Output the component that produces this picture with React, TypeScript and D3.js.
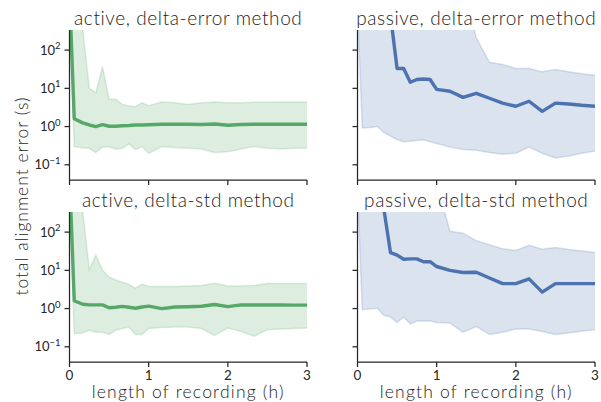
import * as d3 from 'd3';

// recording length (h)
const hours = [0.01, 0.06, 0.167, 0.25, 0.333, 0.417, 0.5, 0.583, 0.667, 0.75, 0.833, 0.917, 1.0,
  1.167, 1.333, 1.5, 1.667, 1.833, 2.0, 2.167, 2.333, 2.5, 2.667, 2.833, 3.0];

// active, delta-error
const activeErrMedian = [1000, 1.6, 1.25, 1.1, 1.0, 1.12, 1.02, 1.02, 1.05, 1.07, 1.1, 1.1, 1.12,
  1.15, 1.15, 1.15, 1.13, 1.17, 1.08, 1.13, 1.15, 1.15, 1.15, 1.15, 1.15];
const activeErrLow = [300, 0.3, 0.28, 0.27, 0.21, 0.29, 0.29, 0.26, 0.27, 0.35, 0.25, 0.3, 0.2,
  0.3, 0.28, 0.27, 0.26, 0.21, 0.22, 0.26, 0.3, 0.27, 0.26, 0.27, 0.27];
const activeErrHigh = [5000, 3000, 350, 10, 7.7, 37, 5.2, 5.2, 3.8, 3.5, 3.3, 4.2, 3.5,
  4.4, 4.2, 3.8, 4.2, 4.4, 4.2, 4.2, 4.3, 4.3, 4.4, 4.4, 4.4];

// passive, delta-error
const passiveErrMedian = [5000, 4000, 3000, 2500, 2000, 800, 33, 33, 14.4, 17, 17.5, 17, 9.4,
  8.4, 5.8, 7.4, 5.5, 4.1, 3.4, 4.6, 2.5, 4.1, 3.9, 3.6, 3.4];
const passiveErrLow = [400, 0.92, 0.95, 1.0, 0.7, 0.56, 0.46, 0.4, 0.41, 0.43, 0.45, 0.4, 0.36,
  0.29, 0.25, 0.24, 0.21, 0.19, 0.2, 0.29, 0.2, 0.15, 0.17, 0.2, 0.23];
const passiveErrHigh = [5000, 5000, 5000, 5000, 5000, 5000, 5000, 5000, 5000, 5000, 5000, 5000, 5000,
  5000, 5000, 210, 48, 42, 33, 33, 27, 31, 27, 24, 22];

// active, delta-std
const activeStdMedian = [1000, 1.6, 1.3, 1.25, 1.25, 1.25, 1.05, 1.08, 1.14, 1.08, 1.02, 1.1, 1.16,
  1.0, 1.1, 1.12, 1.15, 1.28, 1.12, 1.25, 1.24, 1.24, 1.24, 1.23, 1.23];
const activeStdLow = [300, 0.22, 0.23, 0.27, 0.24, 0.24, 0.21, 0.27, 0.3, 0.33, 0.21, 0.21, 0.3,
  0.32, 0.33, 0.33, 0.3, 0.2, 0.31, 0.25, 0.19, 0.28, 0.29, 0.3, 0.31];
const activeStdHigh = [5000, 3000, 350, 10.5, 25, 10, 6.7, 5.6, 4.9, 4.3, 3.4, 4.3, 3.8,
  3.8, 3.8, 3.9, 4.0, 4.6, 3.9, 3.9, 4.0, 4.5, 4.5, 4.5, 4.5];

// passive, delta-std
const passiveStdMedian = [5000, 4000, 3000, 2000, 400, 29, 25, 19.5, 20, 20, 16.8, 16.8, 12.6,
  10, 8.8, 8.9, 6.3, 4.5, 4.5, 6.0, 2.7, 4.5, 4.5, 4.5, 4.5];
const passiveStdLow = [400, 0.95, 0.97, 1.02, 0.67, 0.6, 0.43, 0.6, 0.4, 0.47, 0.47, 0.47, 0.43,
  0.42, 0.24, 0.34, 0.21, 0.24, 0.29, 0.29, 0.25, 0.21, 0.23, 0.26, 0.28];
const passiveStdHigh = [5000, 5000, 5000, 5000, 5000, 5000, 5000, 5000, 5000, 5000, 5000, 5000, 2000,
  105, 94, 60, 47, 36.5, 33, 45.5, 35.5, 39.5, 35, 32, 29.5];

const titles = ['active, delta-error method', 'passive, delta-error method',
  'active, delta-std method', 'passive, delta-std method'];
const xTicks = [0, 1, 2, 3];
const yTicks = [0.1, 1, 10, 100];

const GREEN = '#55a868';
const BLUE = '#4c72b0';
const INK = '#262626';
const TEXT = '#1c1c1c';
const FONT = 'Lato, sans-serif';

const panels = [
  { title: titles[0], med: activeErrMedian, lo: activeErrLow, hi: activeErrHigh, color: GREEN, col: 0, row: 0 },
  { title: titles[1], med: passiveErrMedian, lo: passiveErrLow, hi: passiveErrHigh, color: BLUE, col: 1, row: 0 },
  { title: titles[2], med: activeStdMedian, lo: activeStdLow, hi: activeStdHigh, color: GREEN, col: 0, row: 1 },
  { title: titles[3], med: passiveStdMedian, lo: passiveStdLow, hi: passiveStdHigh, color: BLUE, col: 1, row: 1 },
];

const colX = [[69.5, 307], [357.5, 595]];
const rowY = [[30, 180], [212, 362]];

function Panel({ p, i }: { p: typeof panels[number]; i: number }) {
  const [x0, x1] = colX[p.col];
  const [y0, y1] = rowY[p.row];
  const x = d3.scaleLinear().domain([0, 3]).range([x0, x1]);
  const y = d3.scaleLog().domain([0.04, 336]).range([y1, y0]);
  const area = d3.area<number>()
    .x((_, k) => x(hours[k]))
    .y0((_, k) => y(p.lo[k]))
    .y1((_, k) => y(p.hi[k]));
  const line = d3.line<number>()
    .x((_, k) => x(hours[k]))
    .y((d) => y(d));
  const clipId = `clip-${i}`;
  const showY = p.col === 0;
  const showX = p.row === 1;
  return (
    <g>
      <clipPath id={clipId}>
        <rect x={x0} y={y0} width={x1 - x0} height={y1 - y0} />
      </clipPath>
      <g clipPath={`url(#${clipId})`}>
        <path d={area(p.med) ?? ''} fill={p.color} fillOpacity={0.2} stroke="none" />
        <path d={line(p.lo) ?? ''} fill="none" stroke={p.color} strokeOpacity={0.2} strokeWidth={1.5} />
        <path d={line(p.hi) ?? ''} fill="none" stroke={p.color} strokeOpacity={0.2} strokeWidth={1.5} />
        <path d={line(p.med) ?? ''} fill="none" stroke={p.color} strokeWidth={3.4} strokeLinejoin="round" />
      </g>
      <line x1={x0} x2={x0} y1={y0} y2={y1} stroke={INK} strokeWidth={1.25} />
      <line x1={x0} x2={x1} y1={y1} y2={y1} stroke={INK} strokeWidth={1.25} />
      {yTicks.map((t) => (
        <g key={t}>
          <line x1={x0 - 5} x2={x0} y1={y(t)} y2={y(t)} stroke={INK} strokeWidth={1.25} />
          {showY && (
            <text x={x0 - 9} y={y(t) + 4.5} textAnchor="end" fontSize={13} fill={INK} fontFamily={FONT}>
              10<tspan dy={-5.5} fontSize={9.5}>{t < 1 ? '\u22121' : String(Math.round(Math.log10(t)))}</tspan>
            </text>
          )}
        </g>
      ))}
      {xTicks.map((t) => (
        <g key={t}>
          <line x1={x(t)} x2={x(t)} y1={y1} y2={y1 + 5} stroke={INK} strokeWidth={1.25} />
          {showX && (
            <text x={x(t)} y={y1 + 17.5} textAnchor="middle" fontSize={13.5} fill={INK} fontFamily={FONT}>{t}</text>
          )}
        </g>
      ))}
      <text x={(x0 + x1) / 2} y={y0 - 5} textAnchor="middle" fontSize={19} fontWeight={300}
        letterSpacing={0.6} fill={TEXT} fontFamily={FONT}>{p.title}</text>
      {showX && (
        <text x={(x0 + x1) / 2} y={y1 + 36} textAnchor="middle" fontSize={17.5} fontWeight={300}
          letterSpacing={1.2} fill={TEXT} fontFamily={FONT}>
          length of recording (h)
        </text>
      )}
    </g>
  );
}

export default function App() {
  return (
    <svg width={601} height={402} style={{ position: 'absolute', left: 0, top: 0, background: '#fff' }}>
      {panels.map((p, i) => <Panel key={i} p={p} i={i} />)}
      <text transform="translate(28,196) rotate(-90)" textAnchor="middle" fontSize={17.5} fontWeight={300}
        letterSpacing={1.0} fill={TEXT} fontFamily={FONT}>
        total alignment error (s)
      </text>
    </svg>
  );
}
